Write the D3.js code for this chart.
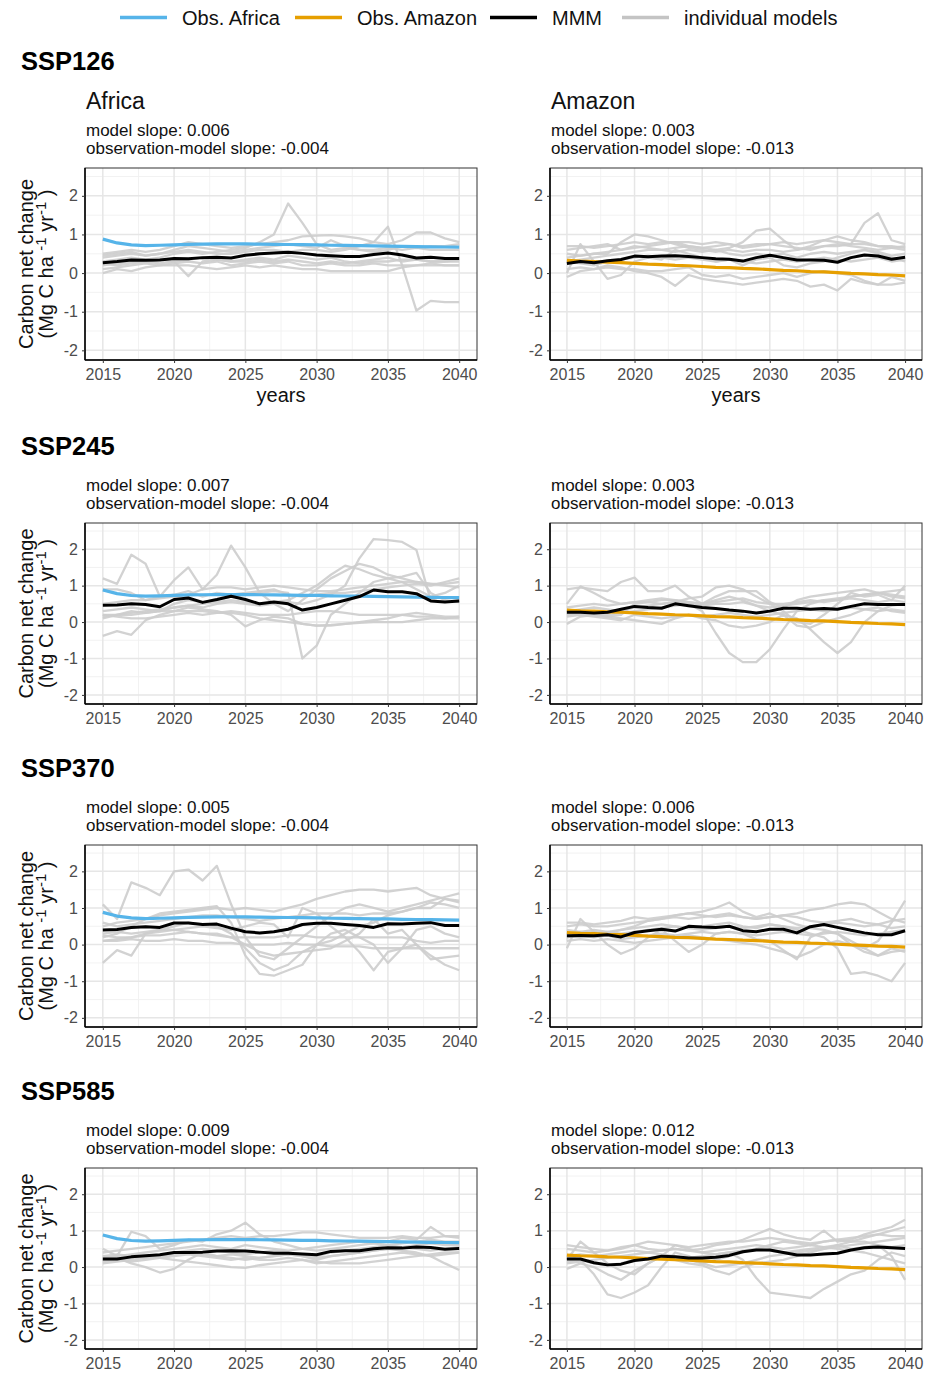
<!DOCTYPE html>
<html>
<head>
<meta charset="utf-8">
<script src="https://cdn.jsdelivr.net/npm/d3@7"></script>
<style>
  body { margin: 0; background: #fff; }
  svg { font-family: "Liberation Sans", Arial, sans-serif; }
</style>
</head>
<body>
<div id="chart"></div>
<script>
// ---- data ----
const years = [2015, 2016, 2017, 2018, 2019, 2020, 2021, 2022, 2023, 2024, 2025, 2026, 2027,
  2028, 2029, 2030, 2031, 2032, 2033, 2034, 2035, 2036, 2037, 2038, 2039, 2040];
const yearTicks = [2015, 2020, 2025, 2030, 2035, 2040];
const yTicks = [-2, -1, 0, 1, 2];
const scenarios = ["SSP126", "SSP245", "SSP370", "SSP585"];
const regions = ["Africa", "Amazon"];

const obsAfrica = [0.88, 0.78, 0.73, 0.71, 0.72, 0.73, 0.745, 0.75, 0.755, 0.755, 0.755, 0.75, 0.745,
  0.74, 0.735, 0.73, 0.72, 0.715, 0.71, 0.705, 0.70, 0.69, 0.685, 0.68, 0.675, 0.67];
const obsAmazon = [0.33, 0.31, 0.30, 0.28, 0.27, 0.25, 0.23, 0.22, 0.20, 0.19, 0.17, 0.15, 0.14,
  0.12, 0.11, 0.09, 0.07, 0.06, 0.04, 0.03, 0.01, -0.01, -0.02, -0.04, -0.05, -0.07];

const modelSlope = { SSP126: ["0.006", "0.003"], SSP245: ["0.007", "0.003"],
  SSP370: ["0.005", "0.006"], SSP585: ["0.009", "0.012"] };
const obsModelSlope = ["-0.004", "-0.013"];

// multi-model means
const mmm126Africa = [0.27, 0.30, 0.34, 0.33, 0.34, 0.38, 0.37, 0.40, 0.41, 0.39, 0.46, 0.50, 0.52,
  0.54, 0.51, 0.47, 0.45, 0.43, 0.43, 0.48, 0.52, 0.47, 0.39, 0.41, 0.38, 0.38];
const mmm126Amazon = [0.25, 0.30, 0.27, 0.32, 0.35, 0.44, 0.42, 0.44, 0.45, 0.43, 0.40, 0.37, 0.36,
  0.31, 0.40, 0.46, 0.40, 0.34, 0.34, 0.33, 0.28, 0.40, 0.47, 0.44, 0.36, 0.41];
const mmm245Africa = [0.46, 0.47, 0.50, 0.48, 0.42, 0.62, 0.66, 0.54, 0.62, 0.71, 0.62, 0.50, 0.55,
  0.50, 0.33, 0.40, 0.50, 0.60, 0.70, 0.88, 0.83, 0.83, 0.78, 0.58, 0.55, 0.58];
const mmm245Amazon = [0.27, 0.27, 0.25, 0.27, 0.35, 0.43, 0.40, 0.38, 0.50, 0.45, 0.40, 0.37, 0.33,
  0.30, 0.25, 0.30, 0.38, 0.38, 0.35, 0.37, 0.35, 0.43, 0.50, 0.48, 0.48, 0.48];
const mmm370Africa = [0.40, 0.41, 0.47, 0.49, 0.47, 0.59, 0.59, 0.55, 0.56, 0.45, 0.35, 0.32, 0.35,
  0.42, 0.55, 0.58, 0.58, 0.55, 0.52, 0.47, 0.57, 0.56, 0.58, 0.60, 0.52, 0.52];
const mmm370Amazon = [0.24, 0.25, 0.24, 0.27, 0.21, 0.33, 0.38, 0.42, 0.37, 0.50, 0.48, 0.47, 0.50,
  0.38, 0.35, 0.42, 0.42, 0.32, 0.49, 0.55, 0.47, 0.39, 0.32, 0.27, 0.27, 0.38];
const mmm585Africa = [0.22, 0.22, 0.28, 0.31, 0.34, 0.40, 0.40, 0.41, 0.44, 0.45, 0.44, 0.41, 0.38,
  0.38, 0.36, 0.34, 0.43, 0.45, 0.45, 0.50, 0.53, 0.52, 0.55, 0.54, 0.49, 0.51];
const mmm585Amazon = [0.22, 0.22, 0.12, 0.06, 0.08, 0.18, 0.22, 0.30, 0.28, 0.25, 0.25, 0.27, 0.32,
  0.42, 0.47, 0.47, 0.40, 0.33, 0.33, 0.36, 0.38, 0.47, 0.53, 0.55, 0.53, 0.51];

// individual models
const models126Africa = [
  [0.3, 0.35, 0.4, 0.35, 0.4, 0.5, 0.55, 0.5, 0.55, 0.6, 0.65, 0.8, 1.0, 1.8, 1.3, 0.75, 0.6, 0.65, 0.6, 0.55, 0.6, 0.7, 0.65, 0.7, 0.7, 0.75],
  [0.4, 0.45, 0.5, 0.45, 0.5, 0.55, 0.6, 0.55, 0.5, 0.5, 0.55, 0.6, 0.6, 0.55, 0.6, 0.6, 0.55, 0.6, 0.7, 0.8, 1.2, 0.2, -0.97, -0.72, -0.75, -0.75],
  [0.25, 0.2, 0.25, 0.3, 0.35, 0.3, -0.08, 0.3, 0.35, 0.3, 0.3, 0.35, 0.3, 0.35, 0.3, 0.25, 0.3, 0.25, 0.3, 0.35, 0.4, 0.3, 0.35, 0.3, 0.3, 0.3],
  [0.5, 0.55, 0.6, 0.55, 0.6, 0.7, 0.8, 0.75, 0.7, 0.65, 0.7, 0.75, 0.8, 0.85, 0.95, 0.97, 0.98, 0.95, 0.9, 0.8, 0.75, 0.85, 1.05, 1.05, 0.9, 0.8],
  [0.0, 0.1, 0.05, 0.15, 0.2, 0.2, 0.2, 0.15, 0.1, 0.15, 0.2, 0.15, 0.2, 0.15, 0.1, 0.1, 0.05, 0.05, 0.05, 0.05, 0.05, 0.15, 0.2, 0.2, 0.2, 0.2],
  [0.2, 0.25, 0.3, 0.3, 0.25, 0.3, 0.35, 0.4, 0.35, 0.3, 0.35, 0.4, 0.35, 0.45, 0.4, 0.35, 0.4, 0.3, 0.25, 0.3, 0.3, 0.35, 0.35, 0.3, 0.3, 0.35],
  [0.45, 0.5, 0.55, 0.45, 0.5, 0.6, 0.7, 0.65, 0.6, 0.55, 0.6, 0.65, 0.7, 0.75, 0.7, 0.65, 0.85, 0.7, 0.6, 0.6, 0.65, 0.6, 0.65, 0.6, 0.6, 0.6],
  [0.1, 0.15, 0.2, 0.25, 0.2, 0.25, 0.3, 0.25, 0.3, 0.2, 0.25, 0.3, 0.25, 0.3, 0.2, 0.2, 0.25, 0.2, 0.2, 0.25, 0.2, 0.2, 0.2, 0.25, 0.2, 0.2]
];
const models126Amazon = [
  [0.5, 0.45, 0.5, 0.55, 0.6, 0.7, 0.65, 0.6, 0.65, 0.7, 0.65, 0.6, 0.65, 0.8, 1.1, 1.15, 0.85, 0.6, 0.65, 0.7, 0.7, 0.75, 1.3, 1.55, 0.85, 0.75],
  [0.7, 0.7, 0.65, 0.7, 0.75, 0.8, 0.75, 0.8, 0.8, 0.8, 0.75, 0.8, 0.75, 0.7, 0.75, 0.75, 0.8, 0.75, 0.8, 0.85, 0.8, 0.75, 0.75, 0.7, 0.7, 0.65],
  [0.4, 0.45, 0.5, 0.5, 0.8, 1.0, 0.95, 0.85, 0.75, 0.65, 0.6, 0.55, 0.6, 0.55, 0.6, 0.6, 0.55, 0.6, 0.7, 0.85, 0.95, 0.85, 0.8, 0.7, 0.65, 0.6],
  [0.1, 0.15, 0.1, 0.2, 0.15, 0.05, 0.0, -0.1, -0.33, -0.05, -0.15, -0.2, -0.25, -0.3, -0.25, -0.2, -0.15, -0.2, -0.35, -0.3, -0.45, -0.15, -0.25, -0.3, -0.3, -0.25],
  [0.0, 0.75, 0.3, -0.15, -0.05, 0.3, 0.4, 0.35, 0.6, 0.5, 0.4, 0.3, 0.35, 0.2, 0.35, 0.4, 0.2, 0.15, 0.25, 0.3, 0.4, 0.5, 0.6, 0.5, 0.4, 0.3],
  [-0.1, 0.05, 0.1, 0.15, 0.1, 0.1, 0.05, 0.05, 0.1, 0.15, -0.05, -0.1, -0.05, -0.15, -0.1, -0.05, 0.0, -0.1, 0.0, 0.05, 0.0, -0.05, -0.2, -0.3, -0.1, -0.2],
  [0.3, 0.35, 0.4, 0.45, 0.5, 0.55, 0.6, 0.6, 0.55, 0.6, 0.55, 0.6, 0.5, 0.45, 0.5, 0.45, 0.5, 0.4, 0.5, 0.55, 0.5, 0.55, 0.6, 0.55, 0.45, 0.5],
  [0.3, 0.25, 0.2, 0.3, 0.35, 0.4, 0.45, 0.4, 0.35, 0.4, 0.35, 0.3, 0.35, 0.3, 0.25, 0.3, 0.35, 0.3, 0.35, 0.4, 0.35, 0.3, 0.35, 0.4, 0.3, 0.35],
  [0.6, 0.65, 0.7, 0.75, 0.6, 0.65, 0.7, 0.75, 0.8, 0.7, 0.65, 0.7, 0.75, 0.65, 0.7, 0.75, 0.7, 0.65, 0.6, 0.7, 0.75, 0.7, 0.65, 0.6, 0.65, 0.7]
];
const models245Africa = [
  [1.2, 1.05, 1.85, 1.6, 0.7, 0.75, 0.85, 0.7, 0.8, 0.75, 0.8, 0.85, 0.9, 0.75, 0.7, 0.75, 0.8, 0.8, 0.85, 0.9, 0.95, 1.0, 1.05, 1.0, 1.1, 1.2],
  [0.9, 0.9, 0.8, 0.6, 0.7, 1.15, 1.5, 0.9, 1.3, 2.1, 1.5, 0.8, 0.5, 0.3, 0.6, 0.9, 1.2, 1.4, 1.6, 1.5, 1.3, 1.2, 1.1, 1.05, 1.0, 0.95],
  [0.1, 0.2, 0.3, 0.25, 0.3, 0.5, 0.6, 0.55, 0.6, 0.7, 0.75, 0.8, 0.85, 0.8, -1.0, -0.65, 0.2, 0.5, 0.8, 1.1, 1.2, 1.1, 0.9, 0.7, 0.8, 1.0],
  [0.3, 0.35, 0.4, 0.35, 0.3, 0.4, 0.45, 0.4, 0.5, 0.55, 0.5, 0.45, 0.5, 0.55, 0.5, 0.6, 0.75, 1.0, 1.75, 2.28, 2.25, 2.2, 1.98, 0.6, 0.55, 0.6],
  [-0.38, -0.25, -0.35, 0.05, 0.2, 0.3, 0.4, 0.35, 0.3, 0.2, -0.12, 0.05, 0.15, 0.1, -0.05, -0.1, -0.1, -0.05, 0.0, 0.05, 0.1, 0.2, 0.25, 0.2, 0.15, 0.15],
  [0.2, 0.2, 0.25, 0.3, 0.35, 0.4, 0.45, 0.5, 0.55, 0.6, 0.55, 0.5, 0.55, 0.6, 0.8, 1.0, 1.3, 1.55, 1.45, 1.3, 1.2, 1.25, 1.35, 0.8, 0.6, 0.55],
  [0.2, 0.15, 0.1, 0.1, 0.15, 0.2, 0.25, 0.2, 0.25, 0.3, 0.25, 0.2, 0.2, 0.2, 0.25, 0.3, 0.3, 0.25, 0.2, 0.2, 0.2, 0.2, 0.15, 0.15, 0.1, 0.1],
  [0.15, 0.2, 0.2, 0.25, 0.3, 0.3, 0.3, 0.3, 0.25, 0.25, 0.2, 0.1, 0.05, 0.0, -0.05, -0.1, -0.08, -0.05, -0.02, 0.0, 0.0, 0.0, 0.05, 0.1, 0.1, 0.15],
  [0.5, 0.55, 0.6, 0.6, 0.65, 0.7, 0.75, 0.9, 0.95, 0.95, 0.9, 0.95, 1.0, 0.95, 0.9, 0.85, 0.85, 0.9, 0.95, 1.0, 1.05, 1.1, 1.1, 1.05, 1.05, 1.1]
];
const models245Amazon = [
  [0.3, 0.35, 0.4, 0.35, 0.3, 0.4, 0.45, 0.5, 0.55, 0.5, 0.3, -0.3, -0.85, -1.1, -1.1, -0.75, -0.2, 0.3, 0.5, 0.6, 0.6, 0.7, 0.75, 0.8, 0.75, 0.7],
  [0.2, 0.25, 0.3, 0.2, 0.25, 0.3, 0.35, 0.4, 0.45, 0.5, 0.45, 0.5, 0.5, 0.55, 0.45, 0.3, 0.2, 0.1, -0.2, -0.55, -0.85, -0.55, 0.0, 0.3, 0.45, 0.5],
  [0.9, 0.95, 0.9, 0.85, 1.1, 1.22, 0.85, 0.85, 1.0, 0.7, 0.5, 0.6, 0.7, 0.6, 0.45, 0.4, 0.45, 0.5, 0.55, 0.6, 0.65, 0.7, 0.75, 0.8, 0.85, 0.9],
  [0.5, 0.98, 0.8, 0.6, 0.5, 0.55, 0.55, 0.5, 0.55, 0.65, 0.7, 0.95, 1.0, 0.9, 0.7, 0.5, 0.3, 0.0, -0.05, 0.2, 0.5, 0.8, 0.7, 0.75, 0.6, 1.0],
  [-0.05, 0.15, 0.2, 0.15, 0.1, 0.05, 0.0, -0.05, 0.1, 0.2, 0.1, 0.05, -0.1, -0.15, -0.1, 0.0, 0.2, -0.1, -0.15, 0.0, 0.1, 0.2, 0.35, 0.4, 0.3, 0.25],
  [0.15, 0.2, 0.25, 0.15, 0.2, 0.5, 0.55, 0.6, 0.6, 0.55, 0.5, 0.7, 0.85, 0.85, 0.85, 0.55, 0.4, 0.6, 0.7, 0.75, 0.8, 0.85, 0.9, 0.8, 0.7, 0.65],
  [0.25, 0.2, 0.15, 0.1, 0.05, 0.2, 0.15, 0.1, 0.15, 0.2, 0.15, 0.2, 0.25, 0.2, 0.15, 0.2, 0.25, 0.3, 0.35, 0.3, 0.35, 0.4, 0.35, 0.3, 0.35, 0.3],
  [0.4, 0.45, 0.5, 0.45, 0.5, 0.55, 0.6, 0.65, 0.6, 0.55, 0.5, 0.55, 0.6, 0.65, 0.55, 0.5, 0.5, 0.55, 0.6, 0.55, 0.6, 0.65, 0.6, 0.55, 0.6, 0.55]
];
const models370Africa = [
  [1.1, 0.7, 1.7, 1.55, 1.35, 2.0, 2.05, 1.75, 2.15, 1.1, 0.2, -0.3, -0.4, -0.1, 0.2, 0.5, 0.8, 1.0, 1.1, 1.0, 0.9, 1.0, 1.1, 1.2, 1.3, 1.4],
  [-0.5, -0.15, -0.3, 0.3, 0.4, 0.5, 0.6, 0.55, 0.5, 0.3, -0.1, -0.5, -0.7, -0.55, -0.2, 0.0, 0.1, 0.3, 0.5, 0.6, 0.8, 0.9, 1.0, 1.0, 1.25, 1.15],
  [0.2, 0.3, 0.5, 0.7, 0.85, 0.9, 0.95, 1.0, 1.05, 0.6, -0.3, -0.8, -0.85, -0.7, -0.55, 0.0, 0.3, 0.4, 0.2, 0.0, -0.5, -0.1, 0.4, 0.5, 0.3, 0.2],
  [0.1, 0.15, 0.2, 0.3, 0.35, 0.4, 0.45, 0.5, 0.45, 0.4, 0.5, 0.6, 0.55, 0.2, 1.0, 0.85, 0.5, 0.2, -0.2, -0.7, -0.2, -0.1, 0.0, -0.3, -0.55, -0.7],
  [0.5, 0.6, 0.65, 0.7, 0.8, 0.85, 0.9, 0.95, 1.0, 0.95, 1.0, 0.95, 0.9, 1.0, 1.1, 1.25, 1.35, 1.45, 1.5, 1.5, 1.45, 1.5, 1.55, 1.35, 1.25, 1.2],
  [0.1, 0.1, 0.15, 0.1, 0.1, 0.15, 0.1, 0.1, 0.05, 0.05, 0.0, 0.0, 0.0, 0.05, 0.0, 0.0, -0.05, -0.05, -0.05, -0.1, -0.1, -0.1, -0.1, -0.1, -0.1, -0.1],
  [0.25, 0.2, 0.2, 0.25, 0.25, 0.3, 0.35, 0.3, 0.25, 0.2, 0.2, 0.2, 0.2, 0.25, 0.25, 0.2, 0.2, 0.2, 0.2, 0.2, 0.2, 0.2, 0.1, 0.05, 0.1, 0.1],
  [0.6, 0.5, 0.55, 0.6, 0.65, 0.7, 0.75, 0.8, 0.8, 0.75, 0.7, 0.65, 0.7, 0.75, 0.8, 0.85, 0.85, 0.85, 0.8, 0.85, 0.85, 0.9, 1.0, 1.15, 1.1, 1.0],
  [0.3, 0.35, 0.3, 0.35, 0.4, 0.4, 0.35, 0.3, 0.3, 0.2, 0.0, -0.2, -0.3, -0.25, -0.2, -0.15, -0.1, 0.1, 0.3, 0.7, 0.3, 0.4, 0.0, -0.4, -0.35, -0.3]
];
const models370Amazon = [
  [0.3, 0.35, 0.3, 0.35, 0.4, 0.45, 0.5, 0.55, 0.5, 0.45, 0.5, 0.55, 0.6, 0.5, 0.45, 0.55, 0.5, 0.4, 0.3, 0.2, -0.1, -0.8, -0.75, -0.85, -1.0, -0.5],
  [0.2, 0.3, 0.35, 0.3, 0.4, 0.5, 0.65, 0.7, 0.8, 0.85, 0.9, 1.0, 1.15, 0.9, 0.75, 0.85, 0.7, 0.55, 0.45, 0.4, 0.3, 0.1, -0.1, 0.1, 0.6, 1.2],
  [0.5, 0.55, 0.5, 0.5, 0.55, 0.6, 0.65, 0.7, 0.75, 0.7, 0.75, 0.8, 0.85, 0.75, 0.7, 0.75, 0.8, 0.85, 0.95, 1.0, 1.1, 1.15, 1.1, 0.9, 0.7, 0.6],
  [-0.1, 0.7, 0.35, 0.0, -0.25, -0.1, 0.2, 0.4, 0.1, -0.2, 0.0, 0.3, 0.35, 0.3, 0.15, 0.1, -0.15, -0.4, 0.2, 0.35, 0.3, 0.0, -0.2, -0.3, -0.1, -0.2],
  [0.6, 0.6, 0.55, 0.6, 0.65, 0.75, 0.7, 0.75, 0.8, 0.85, 0.8, 0.75, 0.8, 0.75, 0.7, 0.75, 0.8, 0.75, 0.65, 0.6, 0.65, 0.7, 0.6, 0.55, 0.65, 0.7],
  [0.1, 0.15, 0.1, 0.15, 0.1, 0.05, 0.1, 0.15, 0.2, 0.25, 0.2, 0.15, 0.1, 0.05, 0.0, -0.1, -0.2, -0.35, -0.2, 0.0, 0.1, 0.0, -0.1, -0.3, -0.2, -0.15],
  [0.4, 0.35, 0.4, 0.35, 0.3, 0.35, 0.4, 0.45, 0.5, 0.45, 0.4, 0.45, 0.5, 0.45, 0.5, 0.55, 0.5, 0.45, 0.5, 0.55, 0.6, 0.55, 0.5, 0.55, 0.45, 0.5],
  [0.2, 0.25, 0.2, 0.25, 0.15, 0.2, 0.25, 0.3, 0.25, 0.3, 0.35, 0.3, 0.35, 0.3, 0.25, 0.3, 0.35, 0.3, 0.25, 0.3, 0.35, 0.3, 0.25, 0.3, 0.35, 0.4]
];
const models585Africa = [
  [0.5, 0.3, 0.97, 0.85, 0.5, 0.6, 0.75, 0.7, 0.9, 1.0, 1.22, 0.9, 0.7, 0.6, 0.5, 0.45, 0.5, 0.55, 0.6, 0.65, 0.7, 0.8, 0.75, 1.1, 0.85, 0.8],
  [0.3, 0.25, 0.1, 0.0, -0.15, -0.05, 0.2, 0.4, 0.3, 0.25, 0.2, 0.25, 0.3, 0.35, 0.3, 0.2, 0.3, 0.35, 0.4, 0.45, 0.5, 0.45, 0.4, 0.3, 0.1, -0.08],
  [0.4, 0.45, 0.5, 0.55, 0.6, 0.65, 0.7, 0.75, 0.8, 0.85, 0.8, 0.85, 0.85, 0.9, 0.95, 0.95, 0.9, 0.85, 0.8, 0.8, 0.8, 0.85, 0.8, 0.8, 0.85, 0.85],
  [0.2, 0.2, 0.25, 0.3, 0.25, 0.2, 0.15, 0.1, 0.05, 0.0, -0.02, 0.05, 0.1, 0.15, 0.2, 0.1, 0.15, 0.2, 0.25, 0.3, 0.35, 0.4, 0.35, 0.3, 0.35, 0.4],
  [0.15, 0.2, 0.15, 0.2, 0.25, 0.3, 0.35, 0.3, 0.25, 0.2, 0.25, 0.2, 0.2, 0.25, 0.2, 0.15, 0.1, 0.1, 0.1, 0.15, 0.2, 0.25, 0.3, 0.35, 0.4, 0.4],
  [0.25, 0.3, 0.35, 0.4, 0.45, 0.5, 0.55, 0.6, 0.55, 0.5, 0.6, 0.55, 0.5, 0.45, 0.5, 0.55, 0.6, 0.65, 0.7, 0.65, 0.6, 0.65, 0.7, 0.75, 0.7, 0.7],
  [0.3, 0.35, 0.3, 0.25, 0.3, 0.35, 0.4, 0.35, 0.3, 0.35, 0.3, 0.25, 0.3, 0.35, 0.3, 0.25, 0.3, 0.35, 0.4, 0.45, 0.5, 0.55, 0.5, 0.45, 0.5, 0.55],
  [0.1, 0.15, 0.2, 0.25, 0.3, 0.4, 0.45, 0.5, 0.45, 0.4, 0.35, 0.4, 0.45, 0.4, 0.35, 0.3, 0.4, 0.45, 0.5, 0.55, 0.6, 0.55, 0.6, 0.65, 0.6, 0.6]
];
const models585Amazon = [
  [0.3, 0.2, -0.2, -0.75, -0.85, -0.7, -0.5, 0.0, 0.4, 0.3, 0.1, 0.2, 0.3, 0.4, 0.5, 0.6, 0.7, 0.65, 0.6, 0.7, 0.75, 0.7, 0.8, 0.9, 1.0, 1.1],
  [0.1, 0.15, 0.2, 0.25, 0.3, 0.35, 0.4, 0.45, 0.5, 0.45, 0.4, 0.35, 0.4, 0.2, -0.3, -0.7, -0.75, -0.8, -0.85, -0.6, -0.4, -0.2, -0.1, 0.2, 0.4, 0.3],
  [0.6, 0.55, 0.5, 0.45, 0.55, 0.6, 0.5, 0.45, 0.5, 0.45, 0.5, 0.6, 0.65, 0.75, 0.9, 1.05, 0.9, 0.8, 0.75, 1.0, 0.7, 0.75, 0.9, 1.0, 1.1, 1.3],
  [0.2, 0.7, 0.4, 0.1, -0.1, -0.2, 0.1, 0.3, 0.2, 0.1, 0.05, -0.1, -0.2, 0.0, 0.1, 0.15, 0.2, 0.3, 0.4, 0.5, 0.6, 0.7, 0.7, 0.6, 0.3, -0.35],
  [-0.05, 0.1, 0.0, -0.2, -0.35, -0.1, 0.1, 0.3, 0.6, 0.5, 0.4, 0.45, 0.5, 0.55, 0.6, 0.55, 0.5, 0.55, 0.6, 0.55, 0.5, 0.45, 0.4, 0.3, 0.2, 0.1],
  [0.5, 0.45, 0.4, 0.45, 0.5, 0.6, 0.7, 0.65, 0.6, 0.55, 0.6, 0.65, 0.7, 0.7, 0.75, 0.8, 0.75, 0.7, 0.65, 0.7, 0.75, 0.8, 0.85, 0.9, 0.85, 0.85],
  [0.3, 0.35, 0.3, 0.35, 0.4, 0.45, 0.4, 0.35, 0.3, 0.25, 0.3, 0.35, 0.4, 0.45, 0.5, 0.45, 0.4, 0.45, 0.5, 0.55, 0.6, 0.5, 0.55, 0.6, 0.55, 0.6],
  [0.15, 0.2, 0.1, 0.05, 0.1, 0.2, 0.25, 0.3, 0.25, 0.2, 0.1, 0.0, 0.05, 0.1, 0.2, 0.3, 0.35, 0.4, 0.45, 0.5, 0.55, 0.6, 0.65, 0.7, 0.75, 0.8]
];

// ---- layout ----
const width = 934, height = 1374;
const colors = { africa: "#56B4E9", amazon: "#E69F00", mmm: "#000000", model: "#cdcdcd" };
const cols = [{ x0: 85, x1: 477 }, { x0: 550, x1: 922 }];
const rows = [
  { top: 168, bottom: 360, title: 70 },
  { top: 523, bottom: 704, title: 455 },
  { top: 845, bottom: 1027, title: 777 },
  { top: 1168, bottom: 1349, title: 1100 }
];

const panels = [
  { s: 0, r: 0, models: models126Africa, mmm: mmm126Africa, obs: obsAfrica },
  { s: 0, r: 1, models: models126Amazon, mmm: mmm126Amazon, obs: obsAmazon },
  { s: 1, r: 0, models: models245Africa, mmm: mmm245Africa, obs: obsAfrica },
  { s: 1, r: 1, models: models245Amazon, mmm: mmm245Amazon, obs: obsAmazon },
  { s: 2, r: 0, models: models370Africa, mmm: mmm370Africa, obs: obsAfrica },
  { s: 2, r: 1, models: models370Amazon, mmm: mmm370Amazon, obs: obsAmazon },
  { s: 3, r: 0, models: models585Africa, mmm: mmm585Africa, obs: obsAfrica },
  { s: 3, r: 1, models: models585Amazon, mmm: mmm585Amazon, obs: obsAmazon }
];

const svg = d3.select("#chart").append("svg")
  .attr("width", width).attr("height", height);

// Legend
const legendItems = [
  { label: "Obs. Africa", color: colors.africa, x: 120 },
  { label: "Obs. Amazon", color: colors.amazon, x: 295 },
  { label: "MMM", color: colors.mmm, x: 490 },
  { label: "individual models", color: "#c4c4c4", x: 622 }
];
const legend = svg.append("g");
legendItems.forEach(d => {
  legend.append("line")
    .attr("x1", d.x).attr("x2", d.x + 47)
    .attr("y1", 17.5).attr("y2", 17.5)
    .attr("stroke", d.color).attr("stroke-width", 3.5);
  legend.append("text")
    .attr("x", d.x + 62).attr("y", 25)
    .attr("font-size", 20).attr("fill", "#111")
    .text(d.label);
});

// Scenario titles
rows.forEach((row, i) => {
  svg.append("text")
    .attr("x", 21).attr("y", row.title)
    .attr("font-size", 25.5).attr("font-weight", "bold")
    .text(scenarios[i]);
});

panels.forEach(p => {
  const col = cols[p.r], row = rows[p.s];
  const x = d3.scaleLinear().domain([2013.75, 2041.25]).range([col.x0, col.x1]);
  const y = d3.scaleLinear().domain([-2.25, 2.72]).range([row.bottom, row.top]);
  const g = svg.append("g");

  // region titles (first row only)
  if (p.s === 0) {
    g.append("text")
      .attr("x", col.x0 + 1).attr("y", 109)
      .attr("font-size", 23).attr("fill", "#111")
      .text(regions[p.r]);
  }
  // slope annotations
  g.append("text")
    .attr("x", col.x0 + 1).attr("y", row.top - 32)
    .attr("font-size", 17).attr("fill", "#111")
    .text("model slope: " + modelSlope[scenarios[p.s]][p.r]);
  g.append("text")
    .attr("x", col.x0 + 1).attr("y", row.top - 14)
    .attr("font-size", 17).attr("fill", "#111")
    .text("observation-model slope: " + obsModelSlope[p.r]);

  // grid
  const minorX = [2012.5, 2017.5, 2022.5, 2027.5, 2032.5, 2037.5];
  const minorY = [-1.5, -0.5, 0.5, 1.5, 2.5];
  g.selectAll(".gxm").data(minorX.filter(v => x(v) > col.x0 && x(v) < col.x1)).enter()
    .append("line")
    .attr("x1", d => x(d)).attr("x2", d => x(d))
    .attr("y1", row.top).attr("y2", row.bottom)
    .attr("stroke", "#f0f0f0").attr("stroke-width", 0.9);
  g.selectAll(".gym").data(minorY).enter()
    .append("line")
    .attr("x1", col.x0).attr("x2", col.x1)
    .attr("y1", d => y(d)).attr("y2", d => y(d))
    .attr("stroke", "#f0f0f0").attr("stroke-width", 0.9);
  g.selectAll(".gx").data(yearTicks).enter()
    .append("line")
    .attr("x1", d => x(d)).attr("x2", d => x(d))
    .attr("y1", row.top).attr("y2", row.bottom)
    .attr("stroke", "#e6e6e6").attr("stroke-width", 1.5);
  g.selectAll(".gy").data(yTicks).enter()
    .append("line")
    .attr("x1", col.x0).attr("x2", col.x1)
    .attr("y1", d => y(d)).attr("y2", d => y(d))
    .attr("stroke", "#e6e6e6").attr("stroke-width", 1.5);

  const line = d3.line()
    .x((d, i) => x(years[i]))
    .y(d => y(d));

  // individual models
  g.selectAll(".model").data(p.models).enter()
    .append("path")
    .attr("d", line)
    .attr("fill", "none")
    .attr("stroke", colors.model)
    .attr("stroke-opacity", 0.9)
    .attr("stroke-width", 2.3)
    .attr("stroke-linejoin", "round");

  // observations
  g.append("path")
    .attr("d", line(p.obs))
    .attr("fill", "none")
    .attr("stroke", p.r === 0 ? colors.africa : colors.amazon)
    .attr("stroke-width", 3.2)
    .attr("stroke-linejoin", "round");

  // MMM
  g.append("path")
    .attr("d", line(p.mmm))
    .attr("fill", "none")
    .attr("stroke", colors.mmm)
    .attr("stroke-width", 3)
    .attr("stroke-linejoin", "round");

  // panel border
  g.append("rect")
    .attr("x", col.x0).attr("y", row.top)
    .attr("width", col.x1 - col.x0).attr("height", row.bottom - row.top)
    .attr("fill", "none").attr("stroke", "#333").attr("stroke-width", 1);

  // axes
  const xAxis = d3.axisBottom(x).tickValues(yearTicks).tickSize(3).tickPadding(6).tickFormat(d => String(d));
  const yAxis = d3.axisLeft(y).tickValues(yTicks).tickSize(3).tickPadding(4).tickFormat(d => String(d));
  const gx = g.append("g").attr("transform", `translate(0,${row.bottom})`).call(xAxis);
  const gy = g.append("g").attr("transform", `translate(${col.x0},0)`).call(yAxis);
  [gx, gy].forEach(a => {
    a.select(".domain").attr("stroke", "#000").attr("stroke-width", 1.5);
    a.selectAll(".tick line").attr("stroke", "#333").attr("stroke-width", 1);
    a.selectAll(".tick text").attr("fill", "#4d4d4d").attr("font-size", 16)
      .attr("font-family", "Liberation Sans, Arial, sans-serif");
  });
  gx.select(".domain").attr("d", `M${col.x0},0H${col.x1}`);
  gy.select(".domain").attr("d", `M0,${row.top}V${row.bottom}`);

  if (p.s === 0) {
    g.append("text")
      .attr("x", (col.x0 + col.x1) / 2).attr("y", 402)
      .attr("text-anchor", "middle").attr("font-size", 20).attr("fill", "#111")
      .text("years");
  }

  // y axis title
  if (p.r === 0) {
    const yc = (row.top + row.bottom) / 2;
    const t = g.append("g").attr("transform", `translate(0,${yc}) rotate(-90)`);
    t.append("text").attr("x", 0).attr("y", 33)
      .attr("text-anchor", "middle").attr("font-size", 20).attr("fill", "#111")
      .text("Carbon net change");
    const t2 = t.append("text").attr("x", 0).attr("y", 53)
      .attr("text-anchor", "middle").attr("font-size", 20).attr("fill", "#111");
    t2.append("tspan").text("(Mg C ha ");
    t2.append("tspan").attr("font-size", 15).attr("dy", -7).text("-1");
    t2.append("tspan").attr("dy", 7).text(" yr");
    t2.append("tspan").attr("font-size", 15).attr("dy", -7).text("-1");
    t2.append("tspan").attr("dy", 7).text(" )");
  }
});
</script>
</body>
</html>
